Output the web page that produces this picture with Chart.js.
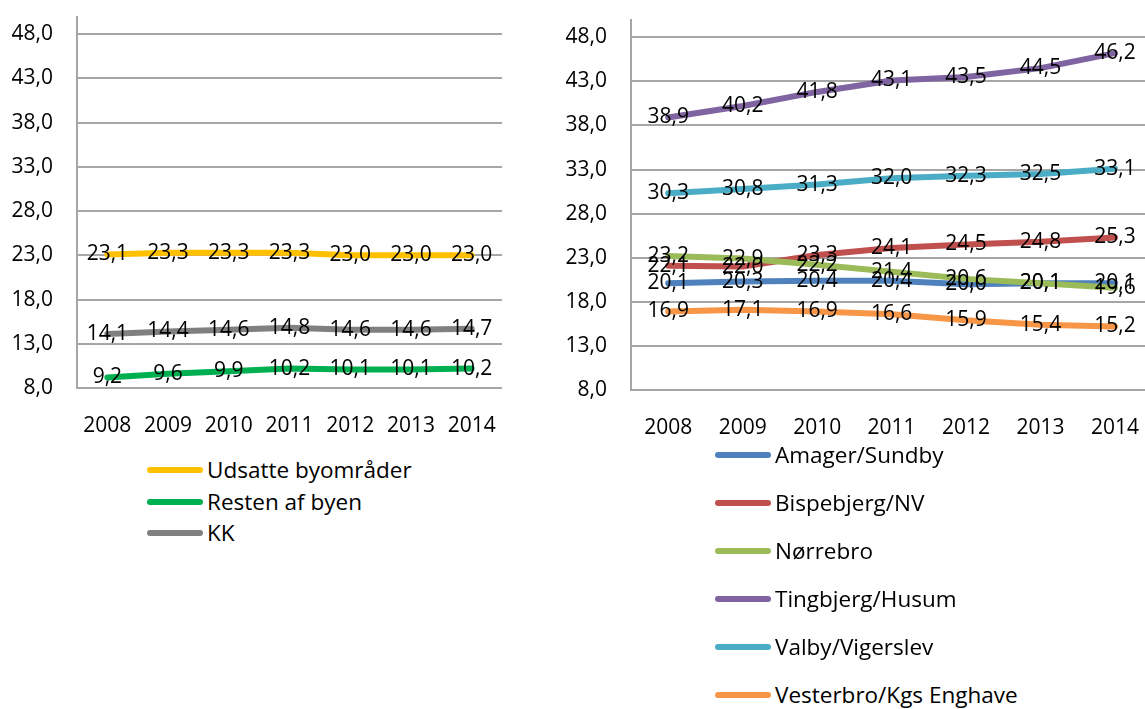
<!DOCTYPE html>
<html>
<head>
<meta charset="utf-8">
<script src="https://cdn.jsdelivr.net/npm/chart.js@4"></script>
<style>
  html, body { margin: 0; padding: 0; width: 1145px; height: 709px; overflow: hidden; background: #fff; }
  body { position: relative; font-family: "Open Sans", sans-serif; }
  #leftWrap { position: absolute; left: 0; top: -20px; }
  #rightWrap { position: absolute; left: 560px; top: -17px; }
  .legend { position: absolute; font-size: 22.5px; color: #000; }
  .legend .item { position: absolute; left: 0; height: 24px; line-height: 24px; white-space: nowrap; display: flex; align-items: center; }
  .legend .swatch { width: 56px; height: 6px; border-radius: 3px; margin-right: 4px; }
</style>
</head>
<body>
<div id="leftWrap"><canvas id="leftChart" width="560" height="460"></canvas></div>
<div id="rightWrap"><canvas id="rightChart" width="596" height="460"></canvas></div>
<div class="legend" id="leftLegend" style="left:147px; top:458px;"></div>
<div class="legend" id="rightLegend" style="left:715px; top:443px;"></div>
<script>
// Years on the x axis
const years = ["2008", "2009", "2010", "2011", "2012", "2013", "2014"];
// Y axis ticks
const yTicks = [8, 13, 18, 23, 28, 33, 38, 43, 48];

// Left panel
const udsatte = [23.1, 23.3, 23.3, 23.3, 23.0, 23.0, 23.0];
const restenAfByen = [9.2, 9.6, 9.9, 10.2, 10.1, 10.1, 10.2];
const kk = [14.1, 14.4, 14.6, 14.8, 14.6, 14.6, 14.7];

// Right panel
const amager = [20.1, 20.3, 20.4, 20.4, 20.0, 20.1, 20.1];
const bispebjerg = [22.1, 22.0, 23.3, 24.1, 24.5, 24.8, 25.3];
const noerrebro = [23.2, 22.9, 22.2, 21.4, 20.6, 20.1, 19.6];
const tingbjerg = [38.9, 40.2, 41.8, 43.1, 43.5, 44.5, 46.2];
const valby = [30.3, 30.8, 31.3, 32.0, 32.3, 32.5, 33.1];
const vesterbro = [16.9, 17.1, 16.9, 16.6, 15.9, 15.4, 15.2];

const leftSeries = [
  { label: "Udsatte byområder", data: udsatte, color: "#FFC000" },
  { label: "Resten af byen", data: restenAfByen, color: "#00B050" },
  { label: "KK", data: kk, color: "#808080" },
];

const rightSeries = [
  { label: "Amager/Sundby", data: amager, color: "#4F81BD" },
  { label: "Bispebjerg/NV", data: bispebjerg, color: "#C0504D" },
  { label: "Nørrebro", data: noerrebro, color: "#9BBB59" },
  { label: "Tingbjerg/Husum", data: tingbjerg, color: "#8064A2" },
  { label: "Valby/Vigerslev", data: valby, color: "#4BACC6" },
  { label: "Vesterbro/Kgs Enghave", data: vesterbro, color: "#F79646" },
];

const FONT = "'Open Sans', sans-serif";
const fmt = (v) => v.toFixed(1).replace(".", ",");

// draws the value of each point centered on it
const valueLabels = {
  id: "valueLabels",
  afterDatasetsDraw(chart) {
    const ctx = chart.ctx;
    ctx.save();
    ctx.font = "21px " + FONT;
    ctx.fillStyle = "#000";
    ctx.textAlign = "center";
    ctx.textBaseline = "middle";
    chart.data.datasets.forEach((ds, i) => {
      chart.getDatasetMeta(i).data.forEach((pt, j) => {
        ctx.fillText(fmt(ds.data[j]), pt.x, pt.y);
      });
    });
    ctx.restore();
  },
};

function makeChart(id, series, opts) {
  const n = series.length;
  return new Chart(document.getElementById(id), {
    type: "line",
    data: {
      labels: years,
      datasets: series.map((s, i) => ({
        label: s.label,
        data: s.data,
        borderColor: s.color,
        backgroundColor: s.color,
        borderWidth: 6,
        borderCapStyle: "round",
        borderJoinStyle: "round",
        pointRadius: 0,
        tension: 0,
        order: n - i,
      })),
    },
    options: {
      responsive: false,
      animation: false,
      devicePixelRatio: 1,
      layout: { padding: { top: opts.top, right: opts.right, left: 0, bottom: 0 } },
      plugins: { legend: { display: false }, tooltip: { enabled: false } },
      scales: {
        x: {
          offset: true,
          grid: { display: false },
          border: { display: false },
          ticks: { color: "#000", font: { family: FONT, size: 21 }, padding: opts.xPad, maxRotation: 0, autoSkip: false },
          afterFit: (scale) => { scale.height = opts.xHeight; },
        },
        y: {
          min: 8,
          max: 50,
          afterBuildTicks: (scale) => { scale.ticks = yTicks.map((v) => ({ value: v })); },
          grid: { color: "#A6A6A6", lineWidth: 2, drawTicks: false },
          border: { display: true, color: "#A6A6A6", width: 2 },
          ticks: { color: "#000", font: { family: FONT, size: 21 }, padding: 24, callback: (v) => fmt(v) },
          afterFit: (scale) => { scale.width = opts.axisWidth; },
        },
      },
    },
    plugins: [valueLabels],
  });
}

function makeLegend(id, series, spacing) {
  const box = document.getElementById(id);
  series.forEach((s, i) => {
    const item = document.createElement("div");
    item.className = "item";
    item.style.top = i * spacing + "px";
    const sw = document.createElement("span");
    sw.className = "swatch";
    sw.style.background = s.color;
    const txt = document.createElement("span");
    txt.textContent = s.label;
    item.appendChild(sw);
    item.appendChild(txt);
    box.appendChild(item);
  });
}

makeChart("leftChart", leftSeries, { top: 14, right: 58, axisWidth: 77, xHeight: 52, xPad: 17 });
makeChart("rightChart", rightSeries, { top: 18, right: 0, axisWidth: 71, xHeight: 53, xPad: 17 });
makeLegend("leftLegend", leftSeries, 31.5);
makeLegend("rightLegend", rightSeries, 48);
</script>
</body>
</html>
